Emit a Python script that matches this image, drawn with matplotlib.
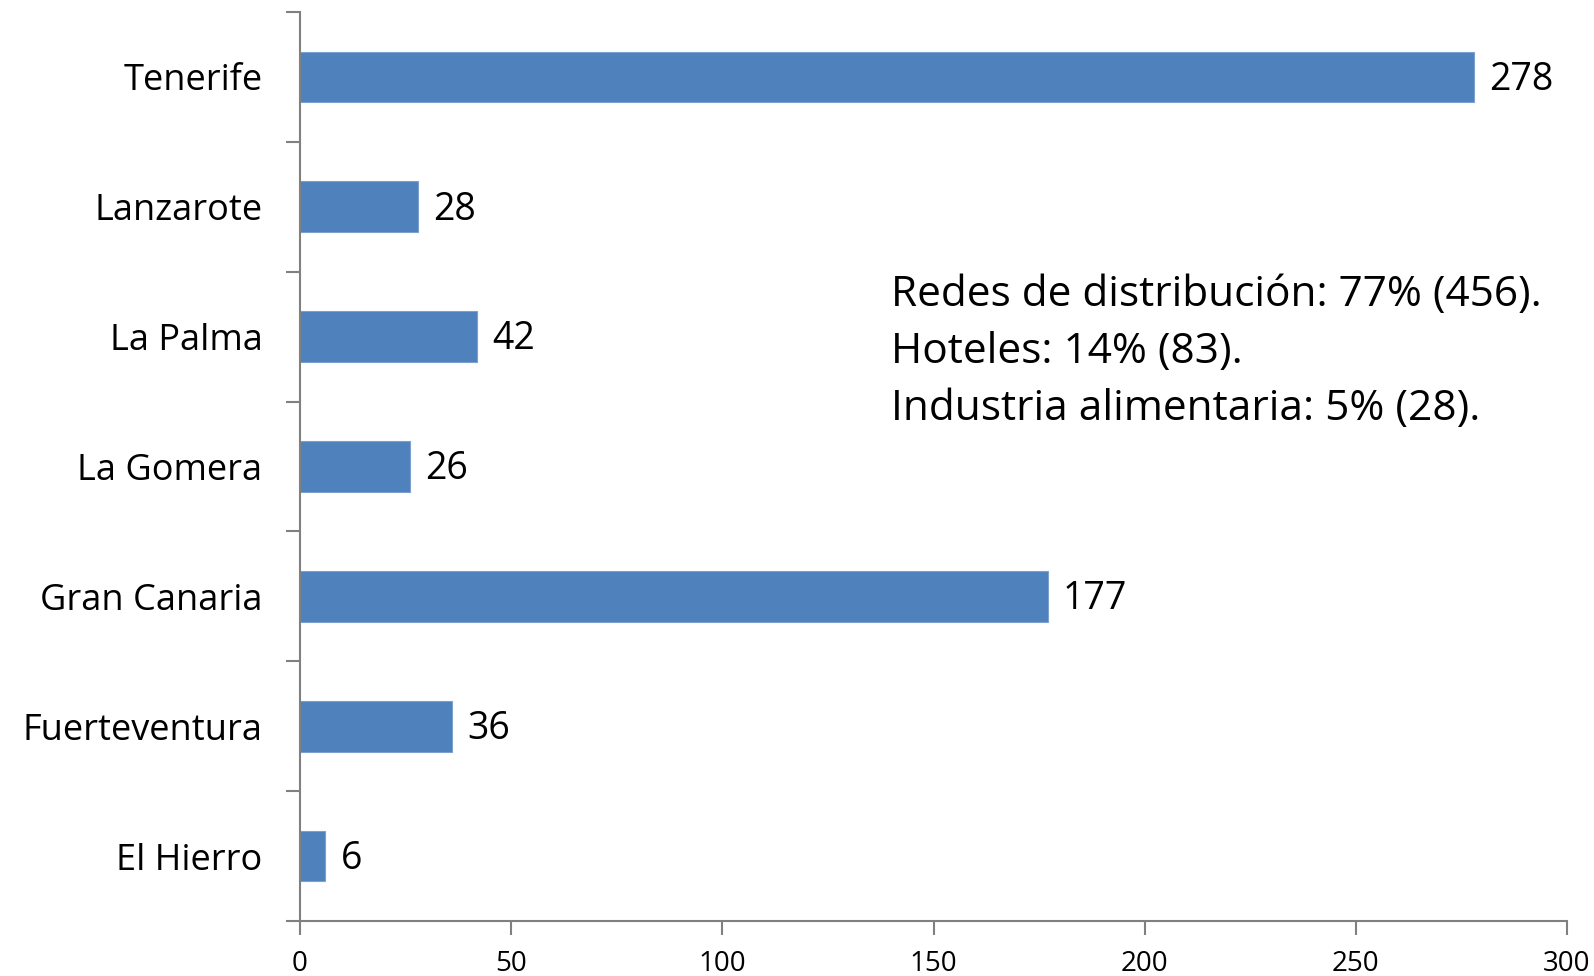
import matplotlib
matplotlib.use("Agg")
import matplotlib.pyplot as plt
from matplotlib.ticker import FixedLocator

islands = ["Tenerife", "Lanzarote", "La Palma", "La Gomera", "Gran Canaria", "Fuerteventura", "El Hierro"]
values = [278, 28, 42, 26, 177, 36, 6]
xticks = [0, 50, 100, 150, 200, 250, 300]
notes = ["Redes de distribución: 77% (456).", "Hoteles: 14% (83).", "Industria alimentaria: 5% (28)."]

plt.rcParams['font.family'] = ['Open Sans', 'DejaVu Sans']

fig = plt.figure(figsize=(15.94, 9.76), dpi=100)
ax = fig.add_axes([300/1594, 1-921/976, (1567-300)/1594, (921-12)/976])

n = len(islands)
ypos = [n - 1 - i for i in range(n)]
bar_color = "#4F81BD"
ax.barh(ypos, values, height=0.39, color=bar_color, edgecolor="#7DA0CF", linewidth=0.8)

for y, v in zip(ypos, values):
    ax.annotate(str(v), xy=(v, y), xytext=(11, -2), textcoords="offset points",
                ha="left", va="center", fontsize=27, color="black")

ax.set_xlim(0, 300)
ax.set_ylim(-0.5, n - 0.5)
ax.set_xticks(xticks)
ax.set_xticklabels([str(t) for t in xticks], fontsize=20)
ax.set_yticks(ypos)
ax.set_yticklabels(islands, fontsize=26)
ax.yaxis.set_minor_locator(FixedLocator([i - 0.5 for i in range(n + 1)]))
ax.tick_params(axis="y", which="major", length=0, pad=27)
ax.tick_params(axis="y", which="minor", length=10, width=1.5, color="#808080", direction="out")
ax.tick_params(axis="x", which="major", length=10, width=1.5, color="#808080", direction="out", pad=11)

for s in ["top", "right"]:
    ax.spines[s].set_visible(False)
for s in ["left", "bottom"]:
    ax.spines[s].set_color("#808080")
    ax.spines[s].set_linewidth(1.5)

note_y = [4.32, 3.88, 3.44]
for t, y in zip(notes, note_y):
    ax.text(139.9, y, t, fontsize=30.5, ha="left", va="center", color="black")

fig.savefig("out.png", dpi=100)
